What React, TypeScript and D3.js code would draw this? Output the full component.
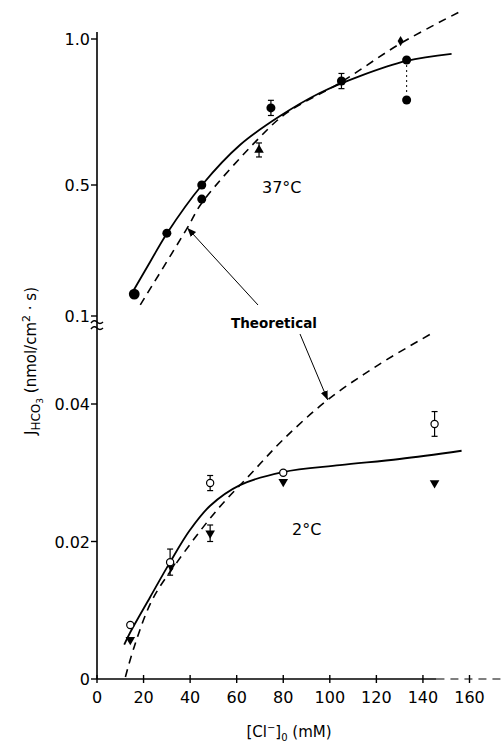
import * as d3 from "d3";
import React, { useEffect, useRef } from "react";

// [Cl-]o in mM, flux in nmol/cm2.s, error = half length of bar
const xTicks = [0, 20, 40, 60, 80, 100, 120, 140, 160];
const warmTicks = [0.1, 0.5, 1.0];
const warmTickLabels = ["0.1", "0.5", "1.0"];
const coldTicks = [0, 0.02, 0.04];
const coldTickLabels = ["0", "0.02", "0.04"];

// 37°C
const warmCircles: Array<[number, number, number]> = [
    [16, 0.167, 0], [30, 0.353, 0], [45, 0.5, 0], [45, 0.457, 0],
    [74.7, 0.764, 0.026], [105, 0.856, 0.026], [133, 0.928, 0], [133, 0.791, 0],
];
const warmTriangles: Array<[number, number, number]> = [[69.6, 0.62, 0.024]];
const warmDiamonds: Array<[number, number, number]> = [[130.4, 0.993, 0]];
const warmFit: Array<[number, number]> = [
    [14.3, 0.161], [22.8, 0.265], [30.1, 0.353], [45.1, 0.5], [61.4, 0.637],
    [78.6, 0.736], [95.7, 0.815], [112.9, 0.873], [133, 0.925], [152.3, 0.949],
];
const warmTheory: Array<[number, number]> = [
    [18.6, 0.134], [38.8, 0.369], [45, 0.445], [70, 0.664], [81.5, 0.747],
    [105, 0.853], [130, 0.983], [155.5, 1.092],
];

// 2°C
const coldCircles: Array<[number, number, number]> = [
    [14.3, 0.00785, 0], [31.4, 0.017, 0.0019], [48.6, 0.0285, 0.0011],
    [80, 0.030, 0], [145, 0.0371, 0.0018],
];
const coldTriangles: Array<[number, number, number]> = [
    [14.3, 0.0057, 0], [31.8, 0.0164, 0], [48.6, 0.0212, 0.0012],
    [80, 0.0287, 0], [145, 0.0285, 0],
];
const coldFit: Array<[number, number]> = [
    [11.7, 0.005], [14.3, 0.0068], [22.8, 0.0119], [31.4, 0.017], [40, 0.0217],
    [48.6, 0.0252], [61.4, 0.0282], [79.9, 0.0301], [104.3, 0.0311], [130, 0.032],
    [156.6, 0.0332],
];
const coldTheory: Array<[number, number]> = [
    [12.2, 0.0003], [16, 0.0047], [23.7, 0.0115], [34.4, 0.0170], [51.6, 0.0246],
    [65.7, 0.0297], [79.9, 0.0348], [99.1, 0.0406], [121.4, 0.0458], [145, 0.0505],
];

const width = 502;
const height = 744;
const font = "'DejaVu Sans', sans-serif";

const App: React.FC = () => {
    const wrapper = useRef<SVGSVGElement>(null);

    useEffect(() => {
        if (!wrapper.current) return;
        const svg = d3.select(wrapper.current);
        svg.selectAll("*").remove();

        const x = d3.scaleLinear().domain([0, 160]).range([97, 469.5]);
        const yWarm = d3.scaleLinear().domain([0.1, 0.5, 1.0]).range([316, 185, 39]);
        const yCold = d3.scaleLinear().domain([0, 0.04]).range([679, 404]);
        const x0 = x(0);

        svg.append("defs")
            .append("marker")
            .attr("id", "head")
            .attr("viewBox", "0 -5 10 10")
            .attr("refX", 10)
            .attr("markerWidth", 9)
            .attr("markerHeight", 9)
            .attr("markerUnits", "userSpaceOnUse")
            .attr("orient", "auto")
            .append("path")
            .attr("d", "M0,-4 L10,0 L0,4 Z")
            .attr("fill", "#000");

        const g = svg.append("g").attr("stroke-linecap", "butt");

        // axes
        g.append("line").attr("x1", x0).attr("x2", x0).attr("y1", 32).attr("y2", yCold(0))
            .attr("stroke", "#000").attr("stroke-width", 1.6);
        g.append("line").attr("x1", x0).attr("x2", x(145.8)).attr("y1", yCold(0)).attr("y2", yCold(0))
            .attr("stroke", "#000").attr("stroke-width", 1.6);
        g.append("line").attr("x1", x(145.8)).attr("x2", width).attr("y1", yCold(0)).attr("y2", yCold(0))
            .attr("stroke", "#000").attr("stroke-width", 1.2).attr("stroke-dasharray", "8 6");

        // axis break
        [322, 328].forEach((yy) => {
            g.append("path")
                .attr("d", `M${x0 - 6},${yy + 1} Q${x0 - 3},${yy - 3} ${x0},${yy} T${x0 + 6},${yy}`)
                .attr("fill", "none").attr("stroke", "#000").attr("stroke-width", 1.4);
        });

        g.selectAll(null).data(xTicks).enter().append("line")
            .attr("x1", (d) => x(d)).attr("x2", (d) => x(d))
            .attr("y1", yCold(0) - 4).attr("y2", yCold(0) + 4)
            .attr("stroke", "#000").attr("stroke-width", 1.4);
        g.selectAll(null).data(xTicks).enter().append("text")
            .attr("x", (d) => x(d)).attr("y", 703)
            .attr("text-anchor", "middle")
            .style("font", `16px ${font}`)
            .text((d) => d);

        const yTickGroup = (ticks: number[], labels: string[], y: d3.ScaleLinear<number, number>) => {
            g.selectAll(null).data(ticks).enter().append("line")
                .attr("x1", x0 - 6).attr("x2", x0)
                .attr("y1", (d) => y(d)).attr("y2", (d) => y(d))
                .attr("stroke", "#000").attr("stroke-width", 1.4);
            g.selectAll(null).data(ticks).enter().append("text")
                .attr("x", x0 - 7).attr("y", (d) => y(d) + 6)
                .attr("text-anchor", "end")
                .style("font", `16px ${font}`)
                .text((_, i) => labels[i]);
        };
        yTickGroup(warmTicks, warmTickLabels, yWarm);
        yTickGroup(coldTicks, coldTickLabels, yCold);

        // curves
        const drawCurve = (pts: Array<[number, number]>, y: d3.ScaleLinear<number, number>, dashed: boolean) => {
            const line = d3.line<[number, number]>()
                .x((d) => x(d[0])).y((d) => y(d[1]))
                .curve(d3.curveCatmullRom.alpha(0.5));
            g.append("path")
                .attr("d", line(pts))
                .attr("fill", "none")
                .attr("stroke", "#000")
                .attr("stroke-width", dashed ? 1.6 : 1.8)
                .attr("stroke-dasharray", dashed ? "8 6" : null);
        };
        drawCurve(warmFit, yWarm, false);
        drawCurve(warmTheory, yWarm, true);
        drawCurve(coldFit, yCold, false);
        drawCurve(coldTheory, yCold, true);

        // dotted link between the two 133 mM points
        g.append("line")
            .attr("x1", x(133)).attr("x2", x(133))
            .attr("y1", yWarm(0.928) + 5).attr("y2", yWarm(0.791) - 5)
            .attr("stroke", "#000").attr("stroke-width", 1).attr("stroke-dasharray", "2 3");

        const errorBars = (pts: Array<[number, number, number]>, y: d3.ScaleLinear<number, number>) => {
            const withErr = pts.filter((d) => d[2] > 0);
            const eg = g.append("g").attr("stroke", "#000").attr("stroke-width", 1.2);
            withErr.forEach(([cx, cy, e]) => {
                const px = x(cx);
                const top = y(cy + e);
                const bot = y(cy - e);
                eg.append("line").attr("x1", px).attr("x2", px).attr("y1", top).attr("y2", bot);
                eg.append("line").attr("x1", px - 3).attr("x2", px + 3).attr("y1", top).attr("y2", top);
                eg.append("line").attr("x1", px - 3).attr("x2", px + 3).attr("y1", bot).attr("y2", bot);
            });
        };
        errorBars(warmCircles, yWarm);
        errorBars(warmTriangles, yWarm);
        errorBars(coldCircles, yCold);
        errorBars(coldTriangles, yCold);

        const sym = (type: d3.SymbolType, size: number) => d3.symbol().type(type).size(size)();

        g.selectAll(null).data(warmCircles).enter().append("circle")
            .attr("cx", (d) => x(d[0])).attr("cy", (d) => yWarm(d[1]))
            .attr("r", (d, i) => (i === 0 ? 5.4 : 4.5))
            .attr("fill", "#000");
        g.selectAll(null).data(warmTriangles).enter().append("path")
            .attr("d", sym(d3.symbolTriangle, 40))
            .attr("transform", (d) => `translate(${x(d[0])},${yWarm(d[1])})`)
            .attr("fill", "#000");
        g.selectAll(null).data(warmDiamonds).enter().append("path")
            .attr("d", sym(d3.symbolDiamond, 30))
            .attr("transform", (d) => `translate(${x(d[0])},${yWarm(d[1])})`)
            .attr("fill", "#000");

        g.selectAll(null).data(coldTriangles).enter().append("path")
            .attr("d", sym(d3.symbolTriangle, 40))
            .attr("transform", (d) => `translate(${x(d[0])},${yCold(d[1])}) rotate(180)`)
            .attr("fill", "#000");
        g.selectAll(null).data(coldCircles).enter().append("circle")
            .attr("cx", (d) => x(d[0])).attr("cy", (d) => yCold(d[1]))
            .attr("r", 3.6)
            .attr("fill", "#fff").attr("stroke", "#000").attr("stroke-width", 1.2);

        // annotations
        g.append("line")
            .attr("x1", 258).attr("y1", 305)
            .attr("x2", x(38.8)).attr("y2", yWarm(0.369))
            .attr("stroke", "#000").attr("stroke-width", 1)
            .attr("marker-end", "url(#head)");
        g.append("line")
            .attr("x1", 300).attr("y1", 334)
            .attr("x2", x(99.1)).attr("y2", yCold(0.0406))
            .attr("stroke", "#000").attr("stroke-width", 1)
            .attr("marker-end", "url(#head)");
        g.append("text")
            .attr("x", 274).attr("y", 328)
            .attr("text-anchor", "middle")
            .style("font", `bold 13.5px ${font}`)
            .text("Theoretical");

        g.append("text").attr("x", 262).attr("y", 193)
            .style("font", `16px ${font}`).text("37°C");
        g.append("text").attr("x", 292).attr("y", 535)
            .style("font", `16px ${font}`).text("2°C");

        // axis titles
        const xt = g.append("text")
            .attr("x", 289).attr("y", 737)
            .attr("text-anchor", "middle")
            .style("font", `15px ${font}`);
        xt.append("tspan").text("[Cl");
        xt.append("tspan").attr("dy", -6).style("font-size", "10px").text("−");
        xt.append("tspan").attr("dy", 6).text("]");
        xt.append("tspan").attr("dy", 4).style("font-size", "10px").text("0");
        xt.append("tspan").attr("dy", -4).text(" (mM)");

        const yt = g.append("text")
            .attr("transform", "translate(36,361) rotate(-90)")
            .attr("text-anchor", "middle")
            .style("font", `15px ${font}`);
        yt.append("tspan").text("J");
        yt.append("tspan").attr("dy", 4).style("font-size", "12px").text("HCO");
        yt.append("tspan").attr("dy", 3).style("font-size", "9px").text("3");
        yt.append("tspan").attr("dy", -7).text("  (nmol/cm");
        yt.append("tspan").attr("dy", -6).style("font-size", "11px").text("2");
        yt.append("tspan").attr("dy", 6).text(" · s)");
    }, []);

    return (
        <svg
            ref={wrapper}
            width={width}
            height={height}
            viewBox={`0 0 ${width} ${height}`}
            style={{ position: "absolute", left: 0, top: 0, display: "block", background: "#fff" }}
        />
    );
};

export default App;
